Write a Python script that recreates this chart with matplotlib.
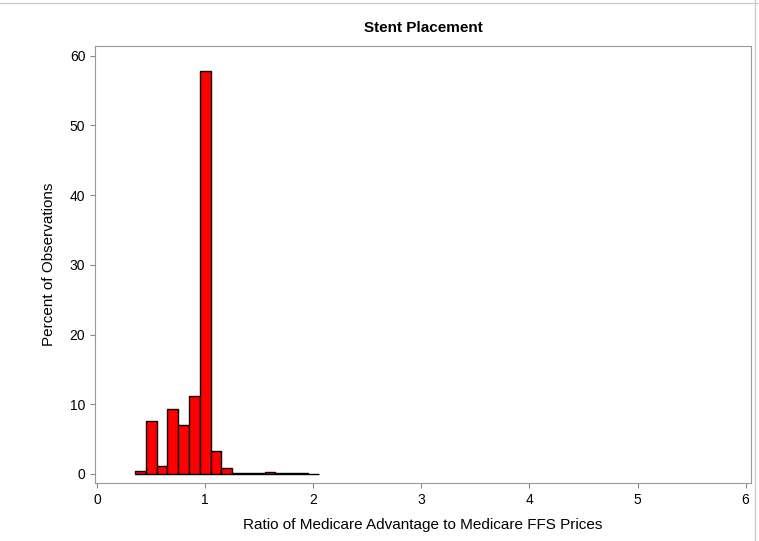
import matplotlib.pyplot as plt

bin_centers = [0.4, 0.5, 0.6, 0.7, 0.8, 0.9, 1.0, 1.1, 1.2, 1.3, 1.4, 1.5, 1.6, 1.7, 1.8, 1.9, 2.0]
percents = [0.4, 7.6, 1.2, 9.3, 7.0, 11.2, 57.8, 3.3, 0.8, 0.2, 0.1, 0.1, 0.3, 0.1, 0.2, 0.2, 0.05]

plt.rcParams["font.family"] = "Liberation Sans"
fig = plt.figure(figsize=(7.59, 5.41), dpi=100)
ax = fig.add_axes([95 / 759, 1 - 483 / 541, (751 - 95) / 759, (483 - 46) / 541])

ax.bar(bin_centers, percents, width=0.1, color="#ff0000", edgecolor="black", linewidth=1)

ax.set_xlim(-0.02, 6.05)
ax.set_ylim(-1.3, 61.4)
ax.set_xticks(range(7))
ax.set_yticks(range(0, 61, 10))
ax.tick_params(labelsize=10, color="#888888")
for s in ax.spines.values():
    s.set_color("#999999")
ax.set_xlabel("Ratio of Medicare Advantage to Medicare FFS Prices", fontsize=11, labelpad=8)
ax.set_ylabel("Percent of Observations", fontsize=11, labelpad=10)
ax.set_title("Stent Placement", fontsize=11, fontweight="bold", pad=10)

fig.add_artist(plt.Line2D([0, 1], [0.995, 0.995], color="#cccccc", lw=1))
fig.add_artist(plt.Line2D([0.995, 0.995], [0, 1], color="#cccccc", lw=1))

fig.savefig("out.png")
